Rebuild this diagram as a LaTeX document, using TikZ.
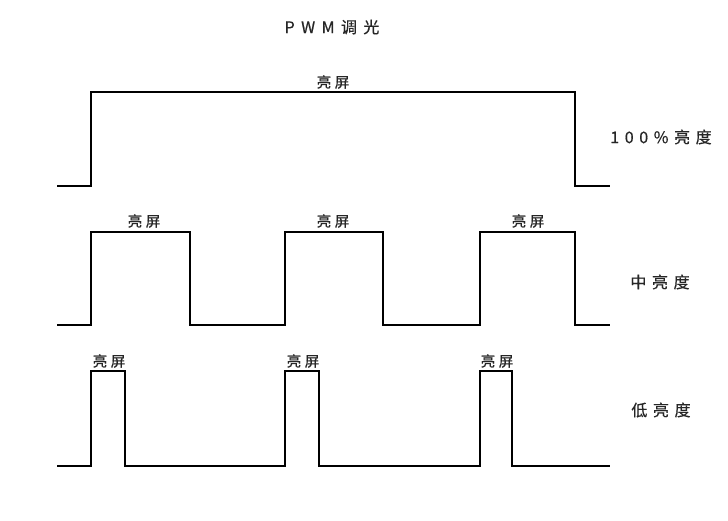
\documentclass[tikz,border=0pt]{standalone}
\usepackage{fontspec}
\newfontfamily\cjk{Noto Sans CJK SC}[LetterSpace=25,FakeBold=0.6]
\newfontfamily\cjks{Noto Sans CJK SC}[LetterSpace=35,FakeBold=0.6]
\newfontfamily\cjkt{Noto Sans CJK SC}[LetterSpace=40,FakeBold=0.6]
\begin{document}
\begin{tikzpicture}[x=1pt,y=-1pt,
  wave/.style={line width=1.8pt,black,line join=miter},
  lbl/.style={font=\cjk\fontsize{14.5}{14.5}\selectfont,text=black!85,inner sep=0pt},
  side/.style={font=\cjks\fontsize{16}{16}\selectfont,text=black!85,inner sep=0pt},
  ttl/.style={font=\cjkt\fontsize{16}{16}\selectfont,text=black!85,inner sep=0pt}]
\useasboundingbox (0,0) rectangle (728,520);
% title
\node[ttl] (title) at (332,27) {PWM调光};
% waveform 1: 100%
\draw[wave] (57,186) -- (91,186) -- (91,92) -- (575,92) -- (575,186) -- (610,186);
\node[lbl] (l1) at (333,82) {亮屏};
\node[side] (s1) at (661,137) {100\%亮度};
% waveform 2: medium
\draw[wave] (57,325) -- (91,325) -- (91,232) -- (190,232) -- (190,325)
  -- (285,325) -- (285,232) -- (383,232) -- (383,325)
  -- (480,325) -- (480,232) -- (575,232) -- (575,325) -- (610,325);
\node[lbl] (l2a) at (144,221) {亮屏};
\node[lbl] (l2b) at (333,221) {亮屏};
\node[lbl] (l2c) at (528,221) {亮屏};
\node[side] (s2) at (660,282) {中亮度};
% waveform 3: low
\draw[wave] (57,466) -- (91,466) -- (91,371) -- (125,371) -- (125,466)
  -- (285,466) -- (285,371) -- (319,371) -- (319,466)
  -- (480,466) -- (480,371) -- (512,371) -- (512,466) -- (610,466);
\node[lbl] (l3a) at (109,361) {亮屏};
\node[lbl] (l3b) at (303,361) {亮屏};
\node[lbl] (l3c) at (497,361) {亮屏};
\node[side] (s3) at (661,410) {低亮度};
\end{tikzpicture}
\end{document}
